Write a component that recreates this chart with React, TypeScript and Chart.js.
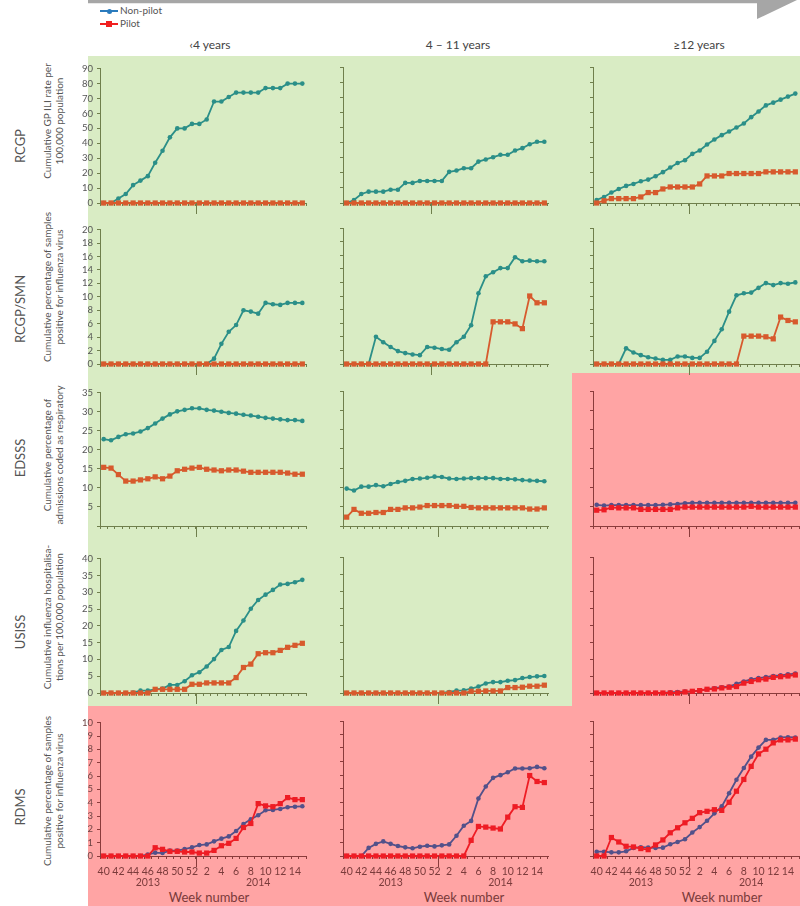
import React, { useEffect, useRef } from "react";
import { Chart, registerables } from "chart.js";
Chart.register(...registerables);
Chart.defaults.font.family = "Lato";

const weeks = ["40","41","42","43","44","45","46","47","48","49","50","51","52","1","2","3","4","5","6","7","8","9","10","11","12","13","14","15"];
const yearLabels = ["2013", "2014"];
const yearLabelWeeks = ["46", "9"];
const ageGroups = ["‹4 years", "4 – 11 years", "≥12 years"];
const systems = ["RCGP", "RCGP/SMN", "EDSSS", "USISS", "RDMS"];
const yTitles = [
  ["Cumulative GP ILI rate per", "100,000 population"],
  ["Cumulative percentage of samples", "positive for influenza virus"],
  ["Cumulative percentage of", "admissions  coded as respiratory"],
  ["Cumulative influenza hospitalisa-", "tions per 100,000 population"],
  ["Cumulative percentage of samples", "positive for influenza virus"],
];
const seriesNames = ["Non-pilot", "Pilot"];
const xAxisTitle = "Week number";

const yMax = [90, 20, 35, 40, 10];
const yStep = [10, 2, 5, 5, 1];

const z = (n: number) => Array(n).fill(0);

// RCGP
const rcgpLt4NonPilot = [0,0,3,6,12,15,18,27,35,44,50,50,53,53,56,68,68,71,74,74,74,74,77,77,77,80,80,80];
const rcgpLt4Pilot = z(28);
const rcgp4to11NonPilot = [0,2,6,7.5,7.5,7.5,8.8,8.8,13.3,13.3,14.6,14.6,14.6,14.6,20.6,21.5,23,23,27.4,28.8,30.3,31.9,31.9,34.7,36.3,38.9,40.5,40.5];
const rcgp4to11Pilot = z(28);
const rcgp12NonPilot = [2,4,6.9,9.3,11.3,12.6,14.4,15.5,17.7,20.4,23.5,26.5,28.3,32.5,34.7,38.7,42,44.9,47.3,50,52.6,56.8,60.6,64.6,66.4,68.4,70.4,72.4];
const rcgp12Pilot = [0,1.5,2.9,2.9,2.9,2.9,4,6.9,6.9,9.3,10.6,10.6,10.6,10.6,12.6,17.9,17.9,17.9,19.5,19.5,19.5,19.5,19.5,20.6,20.6,20.6,20.6,20.6];
// RCGP/SMN
const smnLt4NonPilot = [...z(15),0.8,3.0,4.8,5.8,8.0,7.8,7.5,9.1,8.9,8.8,9.1,9.1,9.1];
const smnLt4Pilot = z(28);
const smn4to11NonPilot = [0,0,0,0,4.0,3.2,2.5,1.9,1.6,1.4,1.3,2.5,2.4,2.2,2.1,3.2,4.0,5.7,10.4,12.9,13.5,14.1,14.1,15.7,15.1,15.2,15.1,15.1];
const smn4to11Pilot = [...z(20),6.2,6.2,6.2,5.9,5.2,10.0,9.0,9.0];
const smn12NonPilot = [0,0,0,0,2.3,1.7,1.3,1.0,0.8,0.6,0.6,1.1,1.1,0.9,0.9,1.8,3.4,5.1,7.7,10.1,10.4,10.5,11.2,11.9,11.6,11.9,11.8,12.0];
const smn12Pilot = [...z(20),4.1,4.1,4.1,4.0,3.7,6.9,6.4,6.2];
// EDSSS
const edsssLt4NonPilot = [22.8,22.5,23.4,24.1,24.3,24.8,25.7,26.9,28.2,29.3,30.1,30.5,30.9,30.9,30.5,30.3,30.0,29.7,29.5,29.2,29.0,28.7,28.4,28.2,28.0,27.8,27.8,27.6];
const edsssLt4Pilot = [15.4,15.2,13.5,11.8,11.8,12.1,12.4,12.9,12.4,13.1,14.5,14.9,15.2,15.4,14.9,14.7,14.5,14.7,14.7,14.4,14.1,14.1,14.1,14.1,14.1,13.9,13.6,13.6];
const edsss4to11NonPilot = [9.7,9.2,10.2,10.2,10.6,10.3,10.9,11.4,11.7,12.2,12.3,12.5,12.8,12.7,12.3,12.2,12.3,12.4,12.4,12.4,12.4,12.2,12.2,12.1,11.9,11.8,11.7,11.6];
const edsss4to11Pilot = [2.3,4.3,3.3,3.3,3.5,3.5,4.3,4.3,4.7,4.7,4.9,5.3,5.3,5.3,5.3,5.1,5.1,4.8,4.7,4.7,4.7,4.7,4.7,4.7,4.7,4.4,4.4,4.7];
const edsss12NonPilot = [5.5,5.3,5.4,5.4,5.4,5.4,5.4,5.4,5.4,5.5,5.6,5.7,5.9,6.0,6.0,6.0,6.0,6.0,6.0,6.0,6.0,6.0,6.0,6.0,6.0,6.0,6.0,6.0];
const edsss12Pilot = [4.1,4.2,4.8,4.7,4.7,4.7,4.3,4.3,4.3,4.3,4.3,4.7,4.9,4.9,4.9,4.9,4.9,4.9,4.9,4.9,4.9,5.1,4.9,4.9,4.9,4.9,4.9,4.9];
// USISS
const usissLt4NonPilot = [0,0,0,0,0.1,0.7,0.7,1.1,1.3,2.4,2.4,3.5,5.3,6.2,7.9,10.1,12.8,13.7,18.5,21.6,25.1,27.7,29.3,30.7,32.3,32.5,33.0,33.7];
const usissLt4Pilot = [0,0,0,0,0,0,0,1.1,1.1,1.1,1.1,1.1,2.6,2.6,3.0,3.0,3.0,3.0,4.6,7.6,8.6,11.7,12.0,12.0,12.7,13.6,14.2,14.8];
const usiss4to11NonPilot = [...z(14),0.3,0.7,0.8,1.3,1.9,2.8,3.2,3.2,3.6,3.8,4.4,4.7,4.9,5.0];
const usiss4to11Pilot = [...z(17),0.5,0.5,0.6,0.6,0.6,1.6,1.6,1.7,2.0,2.0,2.3];
const usiss12NonPilot = [0,0,0,0,0,0,0,0,0,0,0.2,0.3,0.4,0.5,0.7,1.1,1.4,1.7,1.9,2.7,3.4,4.0,4.4,4.7,5.0,5.2,5.5,5.7];
const usiss12Pilot = [0,0,0,0,0,0,0,0,0,0,0,0,0.3,0.5,0.7,1.1,1.2,1.5,1.7,1.9,2.9,3.4,3.9,4.1,4.6,4.8,5.0,5.3];
// RDMS
const rdmsLt4NonPilot = [0,0,0,0,0,0,0.1,0.25,0.22,0.4,0.4,0.52,0.65,0.82,0.87,1.1,1.3,1.47,1.87,2.4,2.76,3.06,3.43,3.46,3.53,3.66,3.7,3.73];
const rdmsLt4Pilot = [0,0,0,0,0,0,0,0.62,0.5,0.35,0.35,0.3,0.3,0.22,0.22,0.42,0.77,0.95,1.32,2.14,2.44,3.93,3.76,3.7,3.93,4.38,4.23,4.23];
const rdms4to11NonPilot = [0,0,0,0.6,0.9,1.08,0.9,0.74,0.64,0.57,0.69,0.76,0.71,0.79,0.86,1.5,2.24,2.6,4.26,5.15,5.79,5.99,6.2,6.48,6.48,6.5,6.6,6.5];
const rdms4to11Pilot = [...z(17),1.16,2.19,2.14,2.07,2.0,2.88,3.65,3.6,5.96,5.52,5.44];
const rdms12NonPilot = [0.32,0.32,0.27,0.27,0.35,0.6,0.65,0.62,0.6,0.62,0.87,1.04,1.24,1.74,2.14,2.61,3.16,3.68,4.65,5.65,6.52,7.36,8.03,8.6,8.6,8.78,8.8,8.78];
const rdms12Pilot = [0,0,1.37,1.04,0.72,0.67,0.55,0.47,0.82,1.19,1.72,2.09,2.46,2.79,3.21,3.31,3.43,3.38,3.98,4.8,5.67,6.64,7.56,7.91,8.38,8.6,8.6,8.66];

const nonPilotGrid = [
  [rcgpLt4NonPilot, rcgp4to11NonPilot, rcgp12NonPilot],
  [smnLt4NonPilot, smn4to11NonPilot, smn12NonPilot],
  [edsssLt4NonPilot, edsss4to11NonPilot, edsss12NonPilot],
  [usissLt4NonPilot, usiss4to11NonPilot, usiss12NonPilot],
  [rdmsLt4NonPilot, rdms4to11NonPilot, rdms12NonPilot],
];
const pilotGrid = [
  [rcgpLt4Pilot, rcgp4to11Pilot, rcgp12Pilot],
  [smnLt4Pilot, smn4to11Pilot, smn12Pilot],
  [edsssLt4Pilot, edsss4to11Pilot, edsss12Pilot],
  [usissLt4Pilot, usiss4to11Pilot, usiss12Pilot],
  [rdmsLt4Pilot, rdms4to11Pilot, rdms12Pilot],
];

// layout
const colLeft = [100, 343, 593];
const colRight = [307, 549, 800];
const rowTop = [67, 228, 391, 557, 721];
const rowBottom = [203, 364, 526, 693, 856];
const Y_W = 40;
const PAD_T = 8;
const PAD_R = 3;

const GREEN = {
  bg: "#d9ecc4", np: "#2b8f88", p: "#d75a2d", axis: "#6f7f4c", label: "#555555",
};
const RED = {
  bg: "#ffa4a4", np: "#52518a", p: "#ee1c24", axis: "#8a3b3b", label: "#6e4444",
};
const isRed = (r: number, c: number) => r === 4 || (c === 2 && r >= 2);

const xTickLabels = weeks.map((w) => {
  const n = parseInt(w, 10);
  const yi = yearLabelWeeks.indexOf(w);
  const main = n % 2 === 0 ? w : "";
  if (yi >= 0) return [main, yearLabels[yi]];
  return main;
});

const yearTickPlugin = {
  id: "yearTick",
  afterDraw(chart: any, _args: any, opts: any) {
    const x = chart.scales.x;
    const k = opts.index;
    const px = Math.round((x.getPixelForValue(k - 1) + x.getPixelForValue(k)) / 2) + 0.5;
    const ctx = chart.ctx;
    ctx.save();
    ctx.strokeStyle = opts.color;
    ctx.lineWidth = 1;
    ctx.beginPath();
    ctx.moveTo(px, x.top);
    ctx.lineTo(px, x.top + 11);
    ctx.stroke();
    ctx.restore();
  },
};

function Panel({ r, c }: { r: number; c: number }) {
  const ref = useRef<HTMLCanvasElement>(null);
  const xH = r === 4 ? 36 : 14;
  const w = Y_W + (colRight[c] - colLeft[c]) + PAD_R;
  const h = PAD_T + (rowBottom[r] - rowTop[r]) + xH;
  const left = colLeft[c] - Y_W;
  const top = rowTop[r] - PAD_T;
  const th = isRed(r, c) ? RED : GREEN;
  const yearIdx = c === 1 && r <= 1 ? 12 : 13;
  useEffect(() => {
    const chart = new Chart(ref.current as HTMLCanvasElement, {
      type: "line",
      data: {
        labels: weeks,
        datasets: [
          {
            label: seriesNames[1],
            data: pilotGrid[r][c],
            borderColor: th.p,
            backgroundColor: th.p,
            pointStyle: "rect",
            pointRadius: 3.7,
            pointBorderWidth: 0,
            borderWidth: 1.8,
            tension: 0,
            clip: false,
            order: 0,
          } as any,
          {
            label: seriesNames[0],
            data: nonPilotGrid[r][c],
            borderColor: th.np,
            backgroundColor: th.np,
            pointStyle: "circle",
            pointRadius: 2.3,
            pointBorderWidth: 0,
            borderWidth: 1.8,
            tension: 0,
            clip: false,
            order: 1,
          } as any,
        ],
      },
      options: {
        responsive: false,
        animation: false,
        events: [],
        layout: { padding: { top: PAD_T, right: PAD_R, left: 0, bottom: 0 } },
        plugins: {
          legend: { display: false },
          tooltip: { enabled: false },
          yearTick: { index: yearIdx, color: th.axis },
        } as any,
        scales: {
          x: {
            type: "category",
            offset: true,
            grid: { offset: true, drawOnChartArea: false, drawTicks: true, tickLength: 3, color: th.axis },
            border: { display: true, color: th.axis, width: 1 },
            ticks: {
              display: r === 4,
              autoSkip: false,
              maxRotation: 0,
              minRotation: 0,
              padding: 7,
              color: "#7b3b3b",
              font: { family: "Lato", size: 10.5, lineHeight: 1.05 },
              callback: (_v: any, i: number) => xTickLabels[i],
            },
            afterFit: (s: any) => { s.height = xH; },
          } as any,
          y: {
            min: 0,
            max: yMax[r],
            grid: { drawOnChartArea: false, drawTicks: true, tickLength: 3, color: th.axis },
            border: { display: true, color: th.axis, width: 1 },
            ticks: {
              display: c === 0,
              autoSkip: false,
              stepSize: yStep[r],
              padding: 4,
              color: th.label,
              font: { family: "Lato", size: 9.5 },
              callback: (v: any) => (r === 2 && v === 0 ? "" : String(v)),
            },
            afterFit: (s: any) => { s.width = Y_W; },
          } as any,
        },
      },
      plugins: [yearTickPlugin as any],
    });
    return () => chart.destroy();
  }, []);
  return (
    <canvas
      ref={ref}
      width={w}
      height={h}
      style={{ position: "absolute", left, top, width: w, height: h }}
    />
  );
}

const rotText = (cx: number, cy: number, extra: React.CSSProperties = {}): React.CSSProperties => ({
  position: "absolute",
  left: cx,
  top: cy,
  transform: "translate(-50%, -50%) rotate(-90deg)",
  whiteSpace: "nowrap",
  textAlign: "center",
  ...extra,
});

const rowLabelY = [146, 309, 458, 632, 807];
const titleY = [121, 287, 455, 617, 791];
const colTitleX = [210, 458, 699];
const weekTitleX = [209, 464, 722];

export default function App() {
  const panels = [];
  for (let r = 0; r < 5; r++) for (let c = 0; c < 3; c++) panels.push(<Panel key={`${r}-${c}`} r={r} c={c} />);
  return (
    <div style={{ position: "absolute", left: 0, top: 0, width: 800, height: 906, overflow: "hidden", background: "#fff", fontFamily: "Lato" }}>
      {/* backgrounds */}
      <div style={{ position: "absolute", left: 88, top: 56, width: 484, height: 650, background: GREEN.bg }} />
      <div style={{ position: "absolute", left: 572, top: 56, width: 228, height: 317, background: GREEN.bg }} />
      <div style={{ position: "absolute", left: 572, top: 373, width: 228, height: 333, background: RED.bg }} />
      <div style={{ position: "absolute", left: 88, top: 706, width: 712, height: 200, background: RED.bg }} />
      {/* arrow */}
      <svg width={800} height={22} style={{ position: "absolute", left: 0, top: 0 }}>
        <polygon points="88,0 797,0 757,19 757,3.3 88,3.3" fill="#a6a6a6" />
      </svg>
      {/* legend */}
      <div style={{ position: "absolute", left: 100, top: 10, width: 18, height: 2, background: "#2a7bbd" }} />
      <div style={{ position: "absolute", left: 106.5, top: 8.5, width: 5, height: 5, borderRadius: 3, background: "#2a7bbd" }} />
      <div style={{ position: "absolute", left: 120, top: 4, fontSize: 10, lineHeight: "13px", color: "#555" }}>{seriesNames[0]}</div>
      <div style={{ position: "absolute", left: 100, top: 23, width: 18, height: 2, background: "#f02020" }} />
      <div style={{ position: "absolute", left: 106, top: 21, width: 6, height: 6, background: "#f02020" }} />
      <div style={{ position: "absolute", left: 120, top: 17, fontSize: 10, lineHeight: "13px", color: "#555" }}>{seriesNames[1]}</div>
      {/* column titles */}
      {ageGroups.map((t, i) => (
        <div key={t} style={{ position: "absolute", left: colTitleX[i], top: 44, transform: "translate(-50%, -50%)", fontSize: 12, color: "#444", whiteSpace: "nowrap" }}>{t}</div>
      ))}
      {/* row labels and y titles */}
      {systems.map((s, i) => (
        <div key={s} style={rotText(20, rowLabelY[i], { fontSize: 13, color: "#555" })}>{s}</div>
      ))}
      {yTitles.map((t, i) => (
        <div key={i} style={rotText(53, titleY[i], { fontSize: 10, lineHeight: "12px", color: "#555" })}>
          {t[0]}<br />{t[1]}
        </div>
      ))}
      {/* week titles */}
      {weekTitleX.map((x, i) => (
        <div key={i} style={{ position: "absolute", left: x, top: 897, transform: "translate(-50%, -50%)", fontSize: 13, color: "#7a3a3a", whiteSpace: "nowrap" }}>{xAxisTitle}</div>
      ))}
      {panels}
    </div>
  );
}
